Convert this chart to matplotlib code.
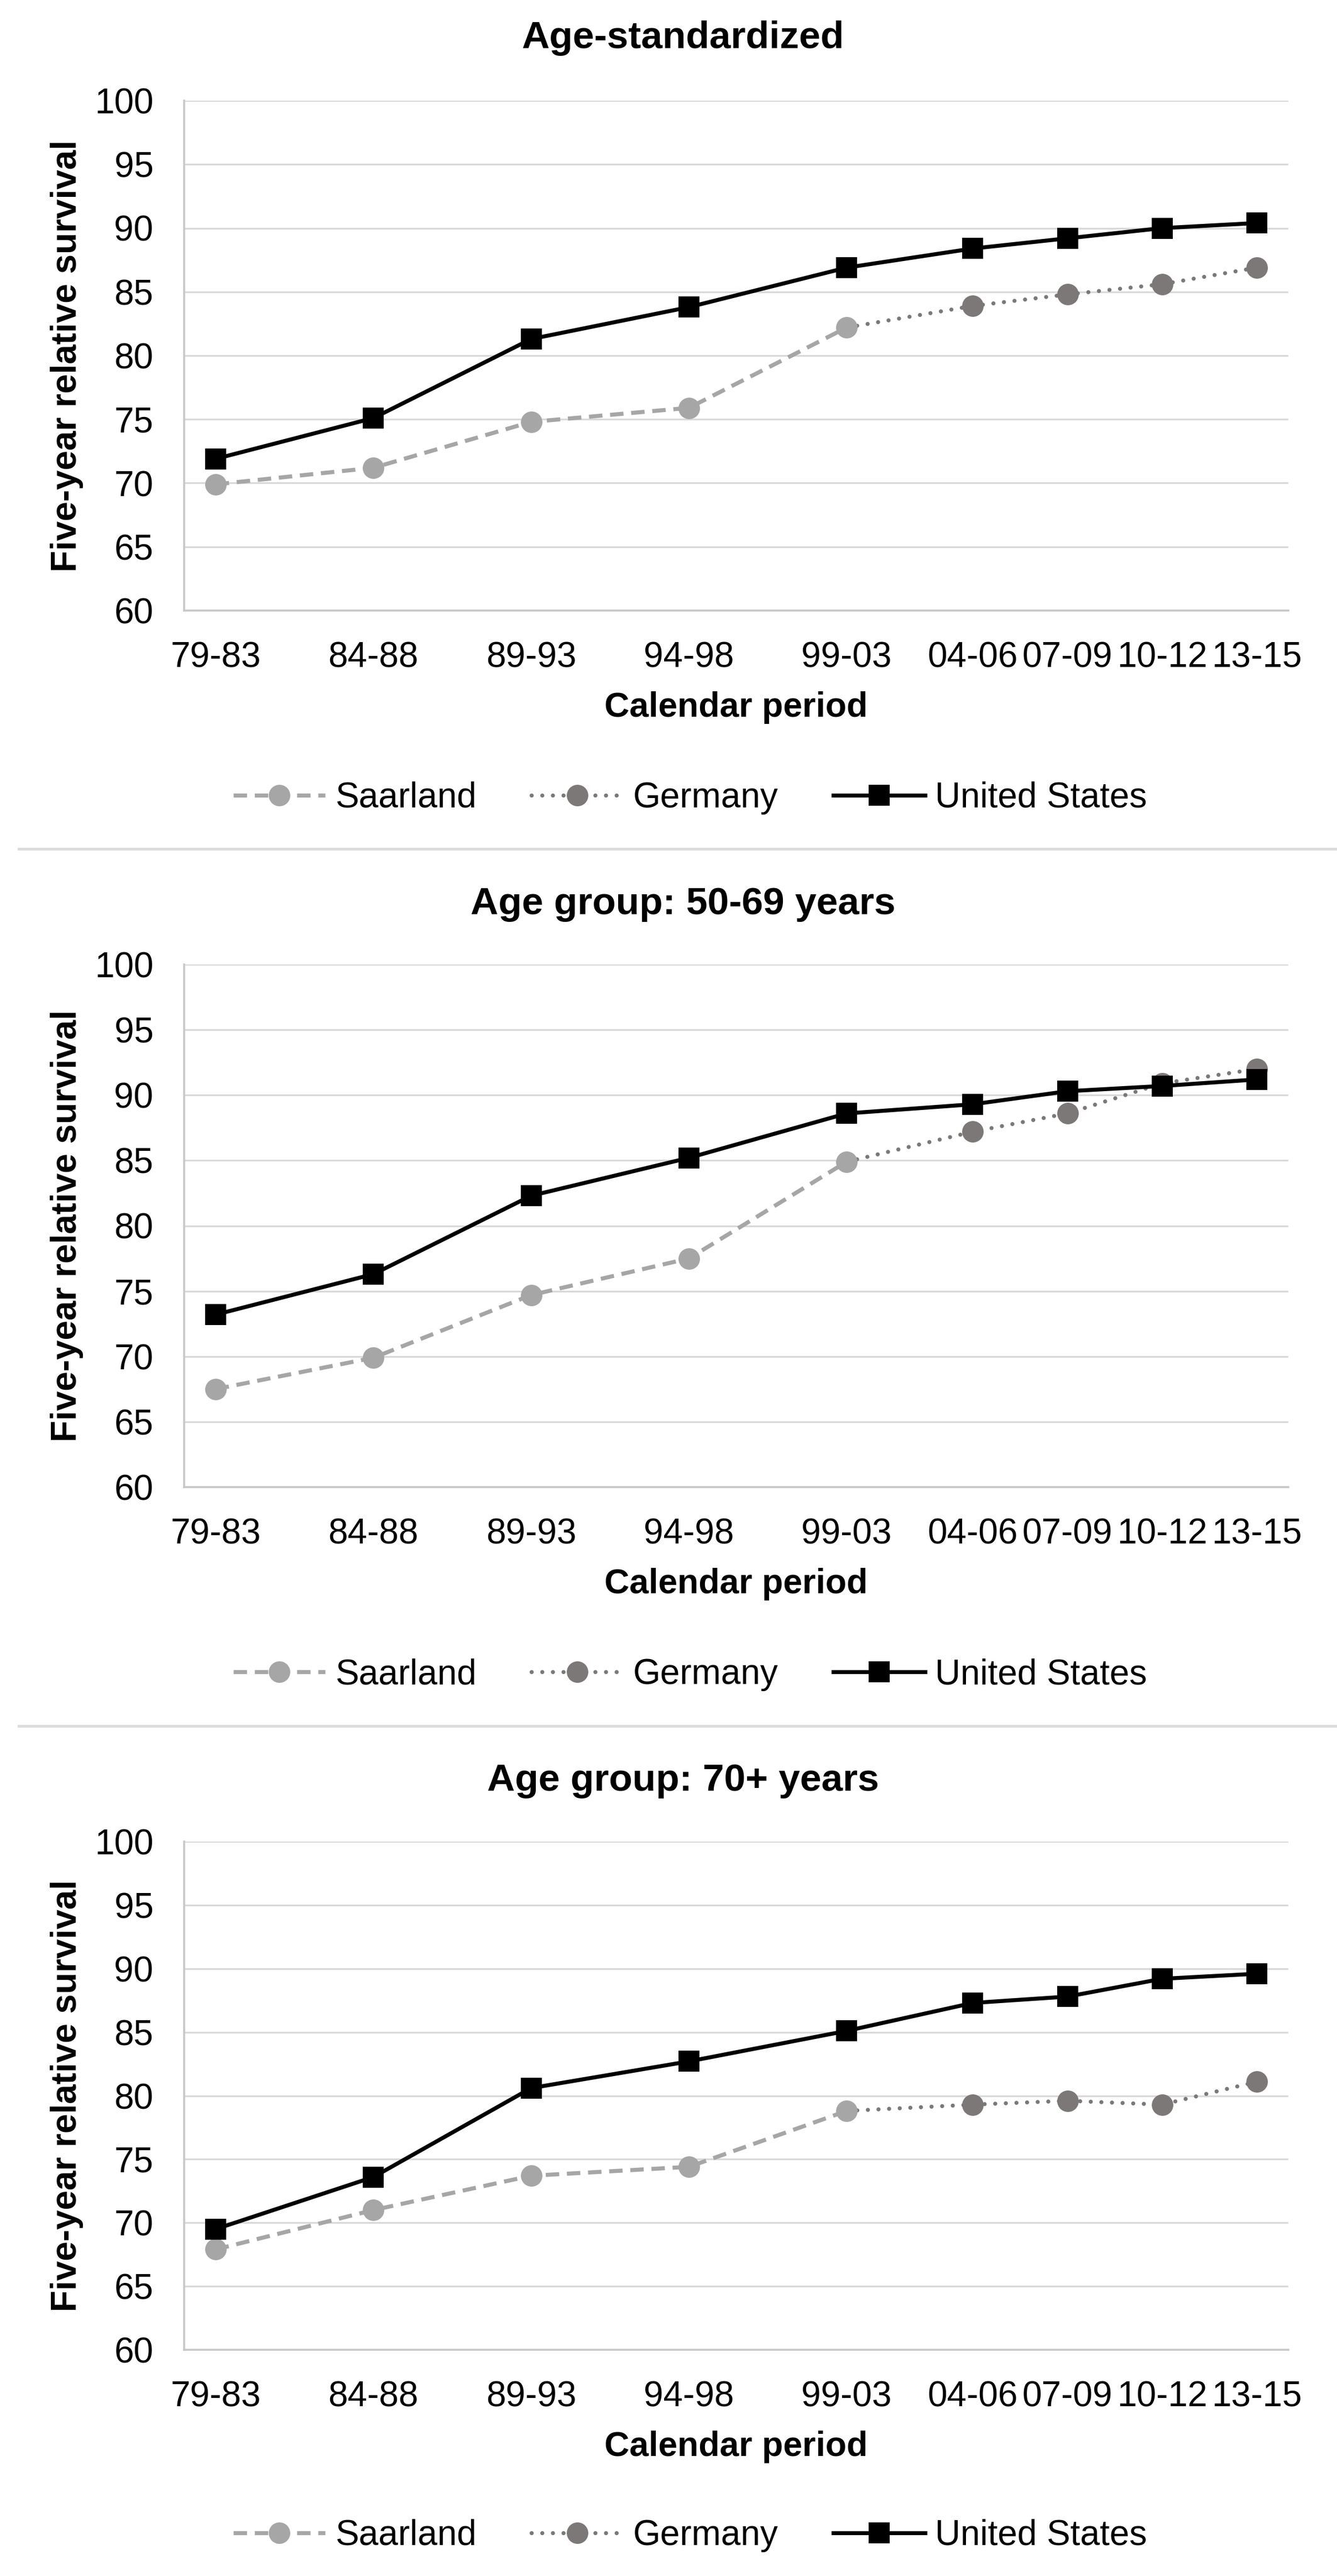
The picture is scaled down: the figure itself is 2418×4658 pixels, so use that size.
import numpy as np
import matplotlib
matplotlib.use('Agg')
import matplotlib.pyplot as plt
from matplotlib.lines import Line2D

plt.rcParams['font.family'] = ['Liberation Sans', 'DejaVu Sans']

# calendar periods (start / end year) and their labels
period_start = np.array([1979, 1984, 1989, 1994, 1999, 2004, 2007, 2010, 2013])
period_end   = np.array([1983, 1988, 1993, 1998, 2003, 2006, 2009, 2012, 2015])
period_labels = ['79-83', '84-88', '89-93', '94-98', '99-03',
                 '04-06', '07-09', '10-12', '13-15']
nan = np.nan

titles = ['Age-standardized', 'Age group: 50-69 years', 'Age group: 70+ years']

saarland_std = [69.9, 71.2, 74.8, 75.9, 82.2, nan, nan, nan, nan]
germany_std  = [nan, nan, nan, nan, 82.2, 83.9, 84.8, 85.6, 86.9]
us_std       = [71.9, 75.1, 81.3, 83.8, 86.9, 88.4, 89.2, 90.0, 90.4]

saarland_5069 = [67.5, 69.9, 74.7, 77.5, 84.9, nan, nan, nan, nan]
germany_5069  = [nan, nan, nan, nan, 84.9, 87.2, 88.6, 90.9, 92.0]
us_5069       = [73.2, 76.3, 82.3, 85.2, 88.6, 89.3, 90.3, 90.7, 91.2]

saarland_70 = [67.9, 71.0, 73.7, 74.4, 78.8, nan, nan, nan, nan]
germany_70  = [nan, nan, nan, nan, 78.8, 79.3, 79.6, 79.3, 81.1]
us_70       = [69.5, 73.6, 80.6, 82.7, 85.1, 87.3, 87.8, 89.2, 89.6]

panels = [(saarland_std, germany_std, us_std),
          (saarland_5069, germany_5069, us_5069),
          (saarland_70, germany_70, us_70)]

years = (period_start + period_end) / 2

W, H = 2418, 4658
fig = plt.figure(figsize=(W / 100, H / 100), dpi=100)

# layout in pixels (from top): title, axes top, axes bottom, legend centre
layout = [(62, 182, 1104, 1443),
          (1628, 1744, 2689, 3028),
          (3213, 3330, 4249, 4585)]
separators = [1535, 3121]
ax_left, ax_right = 333, 2330

c_saar = '#a6a6a6'
c_ger = '#7d7878'
c_us = '#000000'

for (title, (saar, ger, us), (ty, top, bot, leg_y)) in zip(titles, panels, layout):
    ax = fig.add_axes([ax_left / W, 1 - bot / H, (ax_right - ax_left) / W, (bot - top) / H])
    h_px = bot - top
    w_px = ax_right - ax_left

    ax.plot(years, ger, color=c_ger, lw=5.3, ls=(0, (0.01, 2.6)), dash_capstyle='round',
            marker='o', ms=28, mew=0, markevery=slice(5, None), label='Germany', zorder=3)
    ax.plot(years, saar, color=c_saar, lw=5.3, ls=(0, (3.3, 1.9)),
            marker='o', ms=28, mew=0, label='Saarland', zorder=4)
    ax.plot(years, us, color=c_us, lw=5.2, marker='s', ms=27, mew=0,
            label='United States', zorder=5)

    ax.set_xlim(1980, 2015)
    ax.set_ylim(60, 100)
    ax.set_yticks(range(60, 101, 5))
    ax.set_xticks(years)
    ax.set_xticklabels(period_labels)
    ax.yaxis.grid(True, color='#d9d9d9', lw=2.3)
    ax.set_axisbelow(True)
    for s in ['top', 'right']:
        ax.spines[s].set_visible(False)
    for s in ['left', 'bottom']:
        ax.spines[s].set_color('#c8c8c8')
        ax.spines[s].set_linewidth(2.6)
    ax.tick_params(axis='both', length=0, labelsize=46)
    ax.tick_params(axis='x', pad=40)
    ax.tick_params(axis='y', pad=40)

    ax.set_xlabel('Calendar period', fontsize=45, fontweight='bold')
    ax.xaxis.set_label_coords(0.5, -146 / h_px)
    ax.set_ylabel('Five-year relative survival', fontsize=46, fontweight='bold')
    ax.yaxis.set_label_coords((151 - ax_left) / w_px, 0.5)

    ax.set_title(title, fontsize=50, fontweight='bold',
                 x=(1235 - ax_left) / w_px, y=1 + (top - (ty + 25)) / h_px, pad=0)

    handles, labels = ax.get_legend_handles_labels()
    order = [1, 0, 2]
    ax.legend([handles[i] for i in order], [labels[i] for i in order],
              loc='center', bbox_to_anchor=(1248 / W, 1 - leg_y / H),
              bbox_transform=fig.transFigure, ncol=3, frameon=False,
              fontsize=46, handlelength=2.6, handletextpad=0.28,
              columnspacing=1.55, numpoints=1)

for sy in separators:
    fig.add_artist(Line2D([34 / W, 1], [1 - sy / H, 1 - sy / H], transform=fig.transFigure,
                          color='#dcdcdc', lw=3.6))

fig.savefig('out.png', dpi=100, facecolor='white')
